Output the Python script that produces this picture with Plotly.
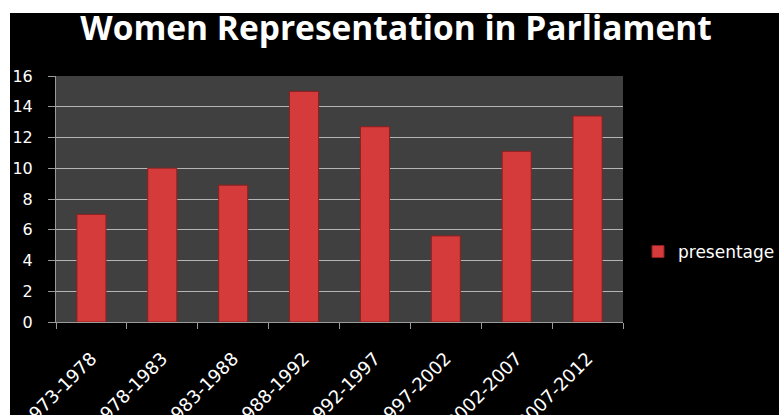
import plotly.graph_objects as go

categories = ["1973-1978", "1978-1983", "1983-1988", "1988-1992",
              "1992-1997", "1997-2002", "2002-2007", "2007-2012"]
values = [7.0, 10.0, 8.9, 15.0, 12.7, 5.6, 11.1, 13.4]
series_name = "presentage"
title_text = "Women Representation in Parliament"

W, H = 779, 415
L, R, T, B = 56, 156, 76, 93
pw, ph = W - L - R, H - T - B

def px_x(p):
    return (p - L) / pw

def px_y(p):
    return (H - B - p) / ph

fig = go.Figure()
fig.add_trace(go.Bar(
    x=categories, y=values, name=series_name,
    marker=dict(color="#d53b3b", line=dict(color="#8f1f1f", width=1)),
    showlegend=True,
))

TFONT = "Open Sans"
FONT = "DejaVu Sans"
fig.update_layout(
    width=W, height=H,
    margin=dict(l=L, r=R, t=T, b=B, autoexpand=False),
    paper_bgcolor="black",
    plot_bgcolor="#404040",
    bargap=0.59,
    font=dict(family=FONT, color="white"),
    title=dict(text="<b>" + title_text + "</b>", x=396 / W, xref="container", xanchor="center",
               y=1 - 28 / H, yref="container", yanchor="middle",
               font=dict(family=TFONT, size=33.5, color="white")),
    showlegend=True,
    legend=dict(x=px_x(638), y=px_y(252), xanchor="left", yanchor="middle",
                bgcolor="rgba(0,0,0,0)", font=dict(family=FONT, size=17, color="white")),
    xaxis=dict(
        automargin=False,
        showgrid=False, showline=True, linecolor="#9a9a9a", linewidth=1,
        ticks="outside", tickson="boundaries", ticklen=6, tickcolor="#9a9a9a",
        tickangle=-45, ticklabelstandoff=18,
        tickfont=dict(family=FONT, size=18, color="white"),
    ),
    yaxis=dict(
        automargin=False,
        range=[0, 16], dtick=2, showgrid=True, gridcolor="#b5b5b5", gridwidth=1,
        showline=True, linecolor="#9a9a9a", linewidth=1,
        ticks="outside", ticklen=7, tickcolor="#9a9a9a", ticklabelstandoff=12,
        tickfont=dict(family=FONT, size=16, color="white"), zeroline=False,
    ),
    shapes=[
        dict(type="rect", xref="paper", yref="paper", x0=px_x(0), x1=px_x(W),
             y0=px_y(13), y1=px_y(0), fillcolor="white", line=dict(width=0), layer="above"),
        dict(type="rect", xref="paper", yref="paper", x0=px_x(0), x1=px_x(10),
             y0=px_y(H), y1=px_y(0), fillcolor="white", line=dict(width=0), layer="above"),
    ],
)

fig.write_html("out.html", config={"displayModeBar": False},
               post_script="document.body.style.margin='0';document.body.style.overflow='hidden';")
